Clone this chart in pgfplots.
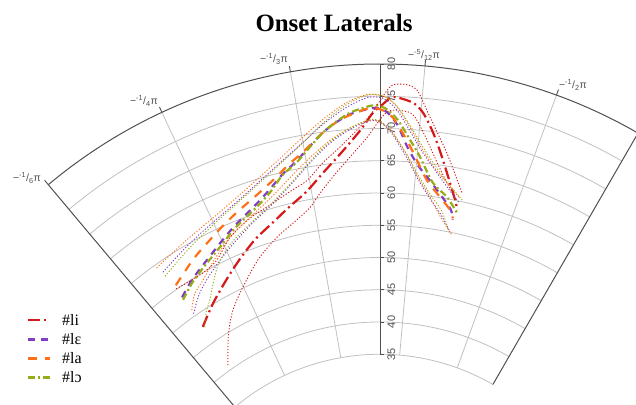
\documentclass[border=0pt]{standalone}
\usepackage{fontspec}
\setmainfont{Liberation Serif}
\newfontfamily\lsans{Liberation Sans}
\usepackage{pgfplots}
\pgfplotsset{compat=1.18}
\definecolor{cli}{RGB}{214,24,24}
\definecolor{cle}{RGB}{128,62,196}
\definecolor{cla}{RGB}{255,112,24}
\definecolor{clo}{RGB}{150,172,24}
\definecolor{gridc}{RGB}{192,192,192}
\definecolor{axc}{RGB}{80,80,80}
\pgfplotsset{
  meanli/.style={cli, line width=2.2bp, dash pattern=on 12bp off 4bp on 2bp off 4bp},
  meanle/.style={cle, line width=2.2bp, dash pattern=on 7bp off 6bp},
  meanla/.style={cla, line width=2.2bp, dash pattern=on 9bp off 8bp},
  meanlo/.style={clo, line width=2.2bp, dash pattern=on 7bp off 3bp on 2bp off 3bp},
  ci/.style={#1, line width=0.9bp, dash pattern=on 1.2bp off 1.8bp, forget plot},
}
\begin{document}
\begin{tikzpicture}
\begin{axis}[
  set layers,
  x=6.45bp, y=6.45bp,
  xmin=-58.915, xmax=39.690, ymin=27.132, ymax=89.922,
  hide axis, clip=false,
  legend style={at={(rel axis cs:0.042,0.047)}, anchor=south west, draw=none, fill=none,
    font=\fontsize{16}{17}\selectfont, row sep=2.5bp, inner sep=0pt,
    /tikz/every odd column/.append style={column sep=9bp}},
  legend cell align=left,
  legend image code/.code={\draw[#1] (0bp,0bp) -- (22bp,0bp);},
]
\coordinate (BL) at (rel axis cs:0,0);
\coordinate (TR) at (rel axis cs:1,1);
\begin{pgfonlayer}{axis background}
\pgfplotsinvokeforeach{35,40,45,50,55,60,65,70,75}{
  \draw[gridc, line width=0.8bp] (axis cs:{#1*cos(60)},{#1*sin(60)}) arc[start angle=60, end angle=130, radius=#1*6.45bp];
}
\pgfplotsinvokeforeach{70,85,100,115}{
  \draw[gridc, line width=0.8bp] (axis cs:{35*cos(#1)},{35*sin(#1)}) -- (axis cs:{80*cos(#1)},{80*sin(#1)});
  \draw[axc, line width=0.9bp] (axis cs:{80*cos(#1)},{80*sin(#1)}) -- (axis cs:{80.9*cos(#1)},{80.9*sin(#1)});
}
\draw[axc, line width=1bp] (axis cs:{35*cos(60)},{35*sin(60)}) -- (axis cs:{80*cos(60)},{80*sin(60)})
   arc[start angle=60, end angle=130, radius=80*6.45bp] -- (axis cs:{35*cos(130)},{35*sin(130)});
\draw[axc, line width=0.9bp] (axis cs:{80*cos(130)},{80*sin(130)}) -- (axis cs:{80.9*cos(130)},{80.9*sin(130)});
\draw[axc, line width=0.9bp] (axis cs:0,35) -- (axis cs:0,80);
\pgfplotsinvokeforeach{35,40,45,50,55,60,65,70,75,80}{
  \draw[axc, line width=0.8bp] (axis cs:0,#1) -- (axis cs:0.62,#1);
  \node[rotate=90, font=\lsans\fontsize{11}{11}\selectfont, text=axc, inner sep=0pt] at (axis cs:1.75,#1) {#1};
}
\end{pgfonlayer}

% ---- means ----
\addplot[meanli, smooth, data cs=polar] table[x expr=\thisrow{t}+160, y=r] {
t r
-35.0 47.9
-38.9 50.1
-43.1 52.4
-46.6 54.4
-50.0 56.3
-53.6 58.0
-56.1 59.4
-59.3 61.3
-62.0 63.7
-64.9 66.6
-67.5 69.8
-69.1 72.4
-70.2 73.6
-71.5 74.9
-73.2 74.5
-74.2 74.0
-75.3 72.7
-76.6 70.2
-77.9 67.3
-79.6 63.4
-81.2 60.0
-81.8 58.6
};
\addlegendentry{\#li}
\addplot[meanle, smooth, data cs=polar] table[x expr=\thisrow{t}+160, y=r] {
t r
-35.0 53.5
-37.7 54.8
-40.4 55.9
-45.0 58.0
-47.6 59.3
-51.7 61.3
-54.2 62.9
-56.5 64.7
-58.8 66.3
-62.8 70.0
-66.0 72.2
-68.4 73.0
-69.6 73.2
-70.8 72.6
-72.2 70.6
-73.6 67.3
-75.2 64.6
-76.6 63.0
-78.8 60.6
-80.8 58.5
-81.4 57.0
};
\addlegendentry{\#lɛ}
\addplot[meanla, smooth, data cs=polar] table[x expr=\thisrow{t}+160, y=r] {
t r
-35.3 55.6
-39.7 57.5
-42.8 58.7
-45.9 60.0
-48.8 61.2
-52.3 62.7
-55.4 64.4
-57.8 66.1
-59.8 67.4
-62.7 69.9
-65.0 71.6
-67.2 72.6
-68.8 73.2
-70.2 72.9
-71.6 71.7
-73.5 68.3
-75.0 65.4
-76.7 62.4
-78.9 60.1
-80.5 58.6
-81.4 57.2
};
\addlegendentry{\#la}
\addplot[meanlo, smooth, data cs=polar] table[x expr=\thisrow{t}+160, y=r] {
t r
-34.9 53.1
-37.7 54.5
-40.4 55.6
-45.0 57.6
-47.6 59.0
-51.7 60.9
-54.2 62.5
-56.5 64.6
-58.8 66.1
-62.8 70.0
-66.0 72.4
-68.4 73.4
-69.6 73.6
-70.8 73.0
-72.2 71.4
-74.2 67.9
-75.4 65.9
-77.6 62.1
-79.9 60.3
-81.8 58.2
};
\addlegendentry{\#lɔ}

% ---- confidence bands ----
\addplot[ci=cli, smooth, data cs=polar] table[x expr=\thisrow{t}+160, y=r] {
t r
-35.0 55.1
-39.4 54.9
-42.8 55.6
-46.4 58.0
-50.2 59.6
-53.7 60.6
-57.4 62.0
-59.7 63.0
-62.2 65.3
-64.7 67.4
-67.1 69.9
-68.8 72.1
-70.6 75.5
-71.5 76.8
-73.1 76.9
-74.3 76.2
-75.2 74.3
-76.6 71.3
-78.9 67.0
-80.9 63.2
-82.0 61.3
};
\addplot[ci=cli, smooth, data cs=polar] table[x expr=\thisrow{t}+160, y=r] {
t r
-34.7 40.8
-38.0 44.4
-41.0 47.3
-44.0 49.5
-49.1 53.1
-53.3 55.5
-57.0 57.3
-59.4 58.8
-61.2 60.7
-63.3 62.9
-65.9 65.7
-68.3 68.6
-69.7 70.9
-70.9 72.6
-72.1 72.9
-73.7 72.6
-74.6 71.5
-76.1 68.6
-77.8 65.3
-79.6 62.4
-81.1 60.5
};
\addplot[ci=cle, smooth, data cs=polar] table[x expr=\thisrow{t}+160, y=r] {
t r
-34.8 58.4
-40.0 59.8
-45.0 61.2
-50.0 63.0
-55.0 65.6
-60.0 68.9
-63.0 71.3
-66.0 73.5
-68.5 74.8
-70.3 74.7
-72.0 73.0
-73.8 69.8
-75.5 66.9
-77.5 64.3
-79.5 62.0
-81.8 59.8
};
\addplot[ci=cle, smooth, data cs=polar] table[x expr=\thisrow{t}+160, y=r] {
t r
-35.0 50.4
-37.5 52.3
-40.5 54.0
-45.0 56.2
-50.0 58.6
-54.0 60.6
-57.5 63.0
-60.5 65.6
-63.5 68.2
-66.5 70.2
-68.8 71.2
-70.0 71.0
-71.5 69.3
-73.5 65.8
-75.5 62.3
-77.5 59.6
-79.5 57.4
-81.4 55.0
};
\addplot[ci=cla, smooth, data cs=polar] table[x expr=\thisrow{t}+160, y=r] {
t r
-34.4 59.5
-39.7 60.5
-45.8 62.0
-51.4 64.2
-56.7 67.2
-60.0 69.6
-63.0 72.0
-66.0 74.2
-68.5 75.3
-70.5 75.0
-72.0 73.5
-73.8 70.3
-75.5 67.3
-77.5 64.5
-79.5 62.5
-81.8 60.5
};
\addplot[ci=cla, smooth, data cs=polar] table[x expr=\thisrow{t}+160, y=r] {
t r
-35.1 51.0
-37.0 52.8
-39.5 54.0
-42.1 55.6
-46.0 57.8
-50.0 59.6
-54.0 61.6
-57.5 64.0
-60.5 66.3
-63.5 68.6
-66.5 70.4
-68.8 71.3
-70.0 71.0
-71.5 69.5
-73.5 66.2
-75.5 62.6
-77.5 59.8
-79.5 57.0
-81.8 54.6
};
\addplot[ci=clo, smooth, data cs=polar] table[x expr=\thisrow{t}+160, y=r] {
t r
-34.7 57.7
-40.0 59.3
-45.0 60.9
-50.0 62.8
-55.0 65.4
-60.0 68.8
-63.0 71.5
-66.0 73.9
-68.5 75.2
-70.4 75.0
-72.0 73.6
-73.8 70.6
-75.5 67.7
-77.5 64.9
-79.5 62.6
-82.2 60.3
};
\addplot[ci=clo, smooth, data cs=polar] table[x expr=\thisrow{t}+160, y=r] {
t r
-35.3 47.7
-37.0 49.5
-38.7 50.8
-40.5 52.6
-42.9 55.0
-46.0 57.0
-50.0 58.8
-54.0 60.8
-57.5 63.2
-60.5 65.8
-63.5 68.4
-66.5 70.4
-68.8 71.4
-70.1 71.1
-71.5 69.6
-73.5 66.3
-75.5 62.9
-77.5 60.2
-79.5 58.0
-80.9 55.6
};

% ---- labels ----
\node[font=\bfseries\fontsize{25}{25}\selectfont, anchor=base] at (axis cs:-7.13,84.96) {Onset Laterals};
\node[font=\lsans\fontsize{10.5}{10.5}\selectfont, text=axc] at (axis cs:-54.73,62.33) {−\textsuperscript{-1}/\textsubscript{6}π};
\node[font=\lsans\fontsize{10.5}{10.5}\selectfont, text=axc] at (axis cs:-36.59,74.26) {−\textsuperscript{-1}/\textsubscript{4}π};
\node[font=\lsans\fontsize{10.5}{10.5}\selectfont, text=axc] at (axis cs:-16.43,80.78) {−\textsuperscript{-1}/\textsubscript{3}π};
\node[font=\lsans\fontsize{10.5}{10.5}\selectfont, text=axc] at (axis cs:6.82,81.40) {−\textsuperscript{-5}/\textsubscript{12}π};
\node[font=\lsans\fontsize{10.5}{10.5}\selectfont, text=axc] at (axis cs:29.92,76.74) {−\textsuperscript{-1}/\textsubscript{2}π};
\end{axis}
\pgfresetboundingbox
\path (BL) rectangle (TR);
\end{tikzpicture}
\end{document}
